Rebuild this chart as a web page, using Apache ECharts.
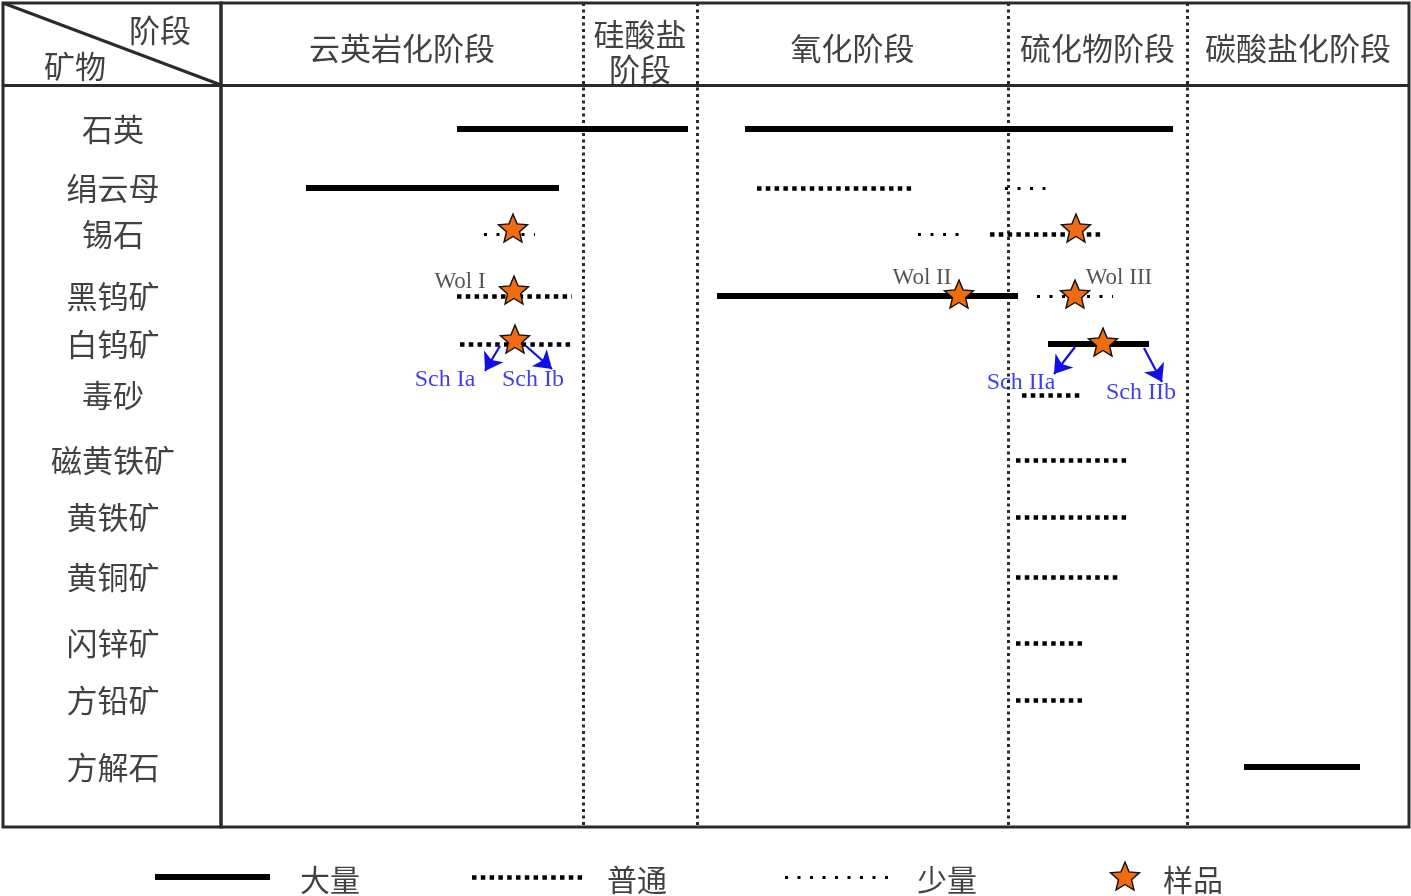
<!DOCTYPE html>
<html>
<head>
<meta charset="utf-8">
<script src="https://cdn.jsdelivr.net/npm/echarts@6/dist/echarts.min.js"></script>
<style>
html,body{margin:0;padding:0;background:#fff;}
#chart{width:1411px;height:896px;}
</style>
</head>
<body>
<div id="chart"></div>
<script>
// ---------- data ----------
const minerals = ['石英','绢云母','锡石','黑钨矿','白钨矿','毒砂','磁黄铁矿','黄铁矿','黄铜矿','闪锌矿','方铅矿','方解石'];
const rowPos   = [126, 185, 231, 293, 341, 392, 457, 514, 574, 640, 697, 764];
const stageNames  = ['云英岩化阶段','硅酸盐\n阶段','氧化阶段','硫化物阶段','碳酸盐化阶段'];
const stageBounds = [0, 362, 476, 787, 966, 1188];
const headerLine = 82;
const colTitle = '阶段';
const rowTitle = '矿物';

// segments: [mineral, start, end]
const abundant = [['石英',236,467],['石英',524,952],['绢云母',85,338],['黑钨矿',496,797],['白钨矿',827,928],['方解石',1023,1139]];
const common = [['绢云母',536,691],['锡石',769,881],['黑钨矿',236,351],['白钨矿',239,353],['毒砂',801,859],
                ['磁黄铁矿',795,906],['黄铁矿',795,909],['黄铜矿',795,900],['闪锌矿',795,861],['方铅矿',795,861]];
const minor = [['绢云母',784,834],['锡石',263,314],['锡石',697,747],['黑钨矿',816,892]];

// samples (stars)
const sampleX = [292, 855, 293, 738, 854, 294, 882];
const sampleY = [225, 225, 287, 291, 291, 336, 339];

// sample labels
const wolLabels = [['Wol I',239,279],['Wol II',701,275],['Wol III',898,275]];
const schLabels = [['Sch Ia',224,377],['Sch Ib',312,377],['Sch IIa',800,380],['Sch IIb',920,390]];
const schArrows = [[[279,343],[264,368]],[[305,343],[331,366]],[[854,344],[833,371]],[[923,345],[941,379]]];

// legend
const legendNames = ['大量','普通','少量','样品'];
const legendLineX = [[155,270],[472,585],[785,895]];
const legendStarX = 1125;
const legendTextX = [330,637,947,1193];

// ---------- styles ----------
const CJK = '"Noto Sans CJK SC", sans-serif';
const SERIF = '"Liberation Serif", serif';
const frameColor = '#2a2a2a';
const textColor = '#111';
const starPath = 'path://M50,0 L63.23,31.8 L97.55,34.55 L71.4,56.95 L79.39,90.45 L50,72.5 L20.61,90.45 L28.6,56.95 L2.45,34.55 L36.77,31.8 Z';
const orange = '#f26b0e';
const blue = '#0f0fe6';

const styleAbundant = {color:'#000', width:6, type:'solid', opacity:1};
const styleCommon   = {color:'#000', width:4.5, type:[4.5,4.3], opacity:1};
const styleMinor    = {color:'#000', width:3, type:[3,9.5], opacity:1};

const rowOf = m => rowPos[minerals.indexOf(m)];
const segData = arr => arr.map(s => ({coords: [[s[1], rowOf(s[0])], [s[2], rowOf(s[0])]]}));

function segSeries(data, style, xi, yi, z){
  return {type:'lines', coordinateSystem:'cartesian2d', xAxisIndex:xi, yAxisIndex:yi,
          polyline:false, silent:true, z:z||5, lineStyle:style, data:data};
}
function textSeries(data, xi, yi, labelStyle, z){
  return {type:'scatter', xAxisIndex:xi, yAxisIndex:yi, symbolSize:1, silent:true, z:z||10,
          itemStyle:{color:'rgba(0,0,0,0)'},
          label:Object.assign({show:true, position:'inside', formatter:p=>p.data[2]}, labelStyle),
          data:data};
}

const hiddenAxis = {show:false, splitLine:{show:false}};

const option = {
  animation:false,
  backgroundColor:'#fff',
  grid:[
    {left:3, top:3, width:218, bottom:69, show:true, borderColor:frameColor, borderWidth:3, backgroundColor:'transparent'},
    {left:221, top:3, right:2, bottom:69, show:true, borderColor:frameColor, borderWidth:3, backgroundColor:'transparent'},
    {left:0, right:0, top:840, bottom:0, show:false}
  ],
  xAxis:[
    Object.assign({type:'value', gridIndex:0, min:0, max:218}, hiddenAxis),
    Object.assign({type:'value', gridIndex:1, min:0, max:1188}, hiddenAxis),
    Object.assign({type:'value', gridIndex:2, min:0, max:1411}, hiddenAxis)
  ],
  yAxis:[
    Object.assign({type:'value', gridIndex:0, min:0, max:824, inverse:true}, hiddenAxis),
    Object.assign({type:'value', gridIndex:1, min:0, max:824, inverse:true}, hiddenAxis),
    Object.assign({type:'value', gridIndex:2, min:0, max:56, inverse:true}, hiddenAxis)
  ],
  series:[
    // stage dividers (dotted)
    segSeries(stageBounds.slice(1,-1).map(b => ({coords:[[b,0],[b,824]]})),
              {color:frameColor, width:3, type:[3,3.5], opacity:1}, 1, 1, 2),
    // header separator lines
    segSeries([{coords:[[0,headerLine],[1188,headerLine]]}], {color:frameColor, width:3, type:'solid', opacity:1}, 1, 1, 3),
    segSeries([{coords:[[0,headerLine],[218,headerLine]]}], {color:frameColor, width:3, type:'solid', opacity:1}, 0, 0, 3),
    // diagonal in corner
    segSeries([{coords:[[0,0],[218,headerLine]]}], {color:frameColor, width:3, type:'solid', opacity:1}, 0, 0, 3),
    // mineral segments
    segSeries(segData(abundant), styleAbundant, 1, 1, 5),
    segSeries(segData(common), styleCommon, 1, 1, 5),
    segSeries(segData(minor), styleMinor, 1, 1, 5),
    // arrows
    {type:'lines', coordinateSystem:'cartesian2d', xAxisIndex:1, yAxisIndex:1, silent:true, z:6,
     symbol:['none','arrow'], symbolSize:[13,17],
     lineStyle:{color:blue, width:2.2, opacity:1},
     data:schArrows.map(a => ({coords:a}))},
    // stars
    {type:'scatter', xAxisIndex:1, yAxisIndex:1, silent:true, z:8,
     symbol:starPath, symbolSize:[29,28],
     itemStyle:{color:orange, borderColor:'#111', borderWidth:1.4, opacity:1},
     data:sampleX.map((x,i) => [x, sampleY[i]])},
    // stage header labels
    textSeries(stageNames.map((n,i) => [(stageBounds[i]+stageBounds[i+1])/2, i===1 ? 49 : 45, n]), 1, 1,
               {fontFamily:CJK, fontSize:31, color:textColor, lineHeight:35}),
    // corner titles
    textSeries([[157,27,colTitle],[72,63,rowTitle]], 0, 0, {fontFamily:CJK, fontSize:31, color:textColor}),
    // mineral labels
    textSeries(minerals.map((m,i) => [110, rowPos[i], m]), 0, 0, {fontFamily:CJK, fontSize:31, color:textColor}),
    // Wol labels
    textSeries(wolLabels.map(w => [w[1], w[2], w[0]]), 1, 1, {fontFamily:SERIF, fontSize:23, color:'#2a2a2a'}, 9),
    // Sch labels
    textSeries(schLabels.map(w => [w[1], w[2], w[0]]), 1, 1, {fontFamily:SERIF, fontSize:24, color:blue}, 9),
    // legend
    segSeries([{coords:[[legendLineX[0][0],37],[legendLineX[0][1],37]]}], styleAbundant, 2, 2, 5),
    segSeries([{coords:[[legendLineX[1][0],37],[legendLineX[1][1],37]]}], styleCommon, 2, 2, 5),
    segSeries([{coords:[[legendLineX[2][0],37],[legendLineX[2][1],37]]}], styleMinor, 2, 2, 5),
    {type:'scatter', xAxisIndex:2, yAxisIndex:2, silent:true, z:8,
     symbol:starPath, symbolSize:[29,28],
     itemStyle:{color:orange, borderColor:'#111', borderWidth:1.4, opacity:1},
     data:[[legendStarX, 36]]},
    textSeries(legendNames.map((n,i) => [legendTextX[i], 40, n]), 2, 2, {fontFamily:CJK, fontSize:30, color:textColor})
  ]
};

const chart = echarts.init(document.getElementById('chart'), null, {renderer:'canvas'});
chart.setOption(option);
</script>
</body>
</html>
